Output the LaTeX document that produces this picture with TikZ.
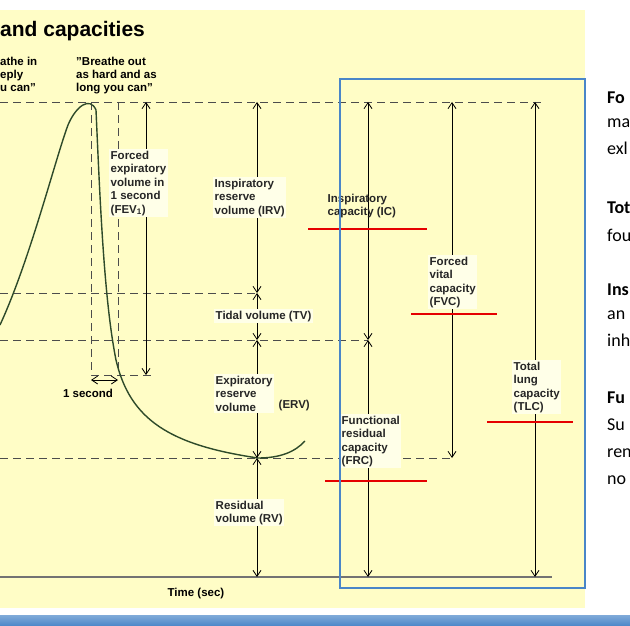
\documentclass[tikz,border=0pt]{standalone}
\usepackage{fontspec}
\setmainfont{Liberation Sans}
\newfontfamily\slidefont{Carlito}
\usetikzlibrary{arrows.meta}
\usetikzlibrary{positioning}
\definecolor{paper}{HTML}{FFFDC6}
\definecolor{labelbg}{HTML}{FFFFE8}
\definecolor{curvegreen}{HTML}{2E4A2A}
\definecolor{framblue}{HTML}{4A86C8}

\tikzset{
	lbl/.style={anchor=north west,align=left,font=\fontsize{11.5}{13.5}\selectfont\bfseries,inner sep=1.5pt,fill=labelbg,text=black!85},
	guide/.style={dashed,dash pattern=on 8pt off 5pt,black!70,line width=0.8pt},
	vol/.style={{Straight Barb[length=6pt,width=8pt]}-{Straight Barb[length=6pt,width=8pt]},line width=0.8pt},
	redline/.style={red!90!black,line width=1.6pt},
	slide/.style={anchor=north west,align=left,font=\slidefont\fontsize{18}{27}\selectfont,inner sep=0pt},
	slidehead/.style={slide,font=\slidefont\bfseries\fontsize{18}{27}\selectfont}
}

\begin{document}
\begin{tikzpicture}[x=1pt,y=-1pt]
	\useasboundingbox (0,0) rectangle (630,626);
	\fill[paper] (0,10) rectangle (585,608);
	\shade[top color=framblue!70,bottom color=framblue] (0,615) rectangle (630,626);
	
	\node[anchor=west,font=\fontsize{21}{23}\selectfont\bfseries,inner sep=0pt] (title) at (0,31) {and capacities};
	\node[anchor=north west,align=left,font=\fontsize{11.5}{13}\selectfont\bfseries,inner sep=0pt] (in) at (0,57) {athe in\\eply\\u can"};
	\node[anchor=north west,align=left,font=\fontsize{11.5}{13}\selectfont\bfseries,inner sep=0pt] (out) at (76,57) {"Breathe out\\as hard and as\\long you can"};
	
	% levels
	\coordinate (top) at (0,102);
	\coordinate (irvb) at (0,293);
	\coordinate (tvb) at (0,340);
	\coordinate (ervb) at (0,458);
	\coordinate (base) at (0,577);
	
	% dashed guides
	\draw[guide] (top) -- (545,102);
	\draw[guide] (irvb) -- (257,293);
	\draw[guide] (tvb) -- (368,340);
	\draw[guide] (ervb) -- (452,458);
	\draw[guide] (91,102) -- (91,375) -- (153,375);
	\draw[guide] (118,102) -- (118,375);
	\draw[black!55,line width=1.2pt] (base) -- (552,577);
	
	% spirometer trace
	\draw[curvegreen,line width=1.4pt] (0,325) .. controls (30,260) and (55,160) .. (68,125)
		.. controls (76,106) and (90,96) .. (96,110)
		.. controls (100,200) and (104,300) .. (116,360)
		.. controls (130,420) and (170,445) .. (258,458)
		.. controls (280,458) and (295,452) .. (305,441);
	
	% one second
	\coordinate (s1) at (91,380);
	\coordinate (s2) at (118,380);
	\draw[vol] (s1) -- (s2);
	\node[font=\fontsize{11.5}{13}\selectfont\bfseries,inner sep=0pt] (sec) at (88,393) {1 second};
	
	% volume arrows
	\draw[vol] (146,102) -- (146,375);
	\draw[vol] (257,102) -- (257,293);
	\draw[vol] (257,293) -- (257,340);
	\draw[vol] (257,340) -- (257,458);
	\draw[vol] (257,458) -- (257,577);
	\draw[vol] (368,102) -- (368,340);
	\draw[vol] (368,340) -- (368,577);
	\draw[vol] (452,102) -- (452,458);
	\draw[vol] (535,102) -- (535,577);
	
	% labels
	\node[lbl] (fev) at (109,149) {Forced\\expiratory\\volume in\\1 second\\(FEV$_{\mathbf 1}$)};
	\node[lbl] (irv) at (213,177) {Inspiratory\\reserve\\volume (IRV)};
	\node[lbl] (tv) at (214,309) {Tidal volume (TV)};
	\node[lbl] (erv) at (214,374) {Expiratory\\reserve\\volume};
	\node[lbl,fill=none] (ervab) at (277,398) {(ERV)};
	\node[lbl] (rv) at (214,499) {Residual\\volume (RV)};
	\node[lbl,fill=none] (ic) at (326,192) {Inspiratory\\capacity (IC)};
	\node[lbl] (fvc) at (428,255) {Forced\\vital\\capacity\\(FVC)};
	\node[lbl] (tlc) at (512,360) {Total\\lung\\capacity\\(TLC)};
	\node[lbl] (frc) at (340,414) {Functional\\residual\\capacity\\(FRC)};
	\node[font=\fontsize{11.5}{13}\selectfont\bfseries,inner sep=0pt] (time) at (196,594) {Time (sec)};
	
	% red underlines
	\draw[redline] (308,229) -- (427,229);
	\draw[redline] (411,314) -- (497,314);
	\draw[redline] (487,422) -- (573,422);
	\draw[redline] (325,481) -- (427,481);
	
	% frame
	\draw[framblue,line width=1.8pt] (340,79) rectangle (585,588);
	
	% slide text
	\node[slidehead] (fo) at (607,92) {Fo};
	\node[slide] (fob) at (607,119) {ma\\exl};
	\node[slidehead] (tot) at (607,202) {Tot};
	\node[slide] (totb) at (607,229) {fou};
	\node[slidehead] (ins) at (607,284) {Ins};
	\node[slide] (insb) at (607,311) {an\\inh};
	\node[slidehead] (fu) at (607,392) {Fu};
	\node[slide] (fub) at (607,419) {Su\\ren\\no};
\end{tikzpicture}
\end{document}
